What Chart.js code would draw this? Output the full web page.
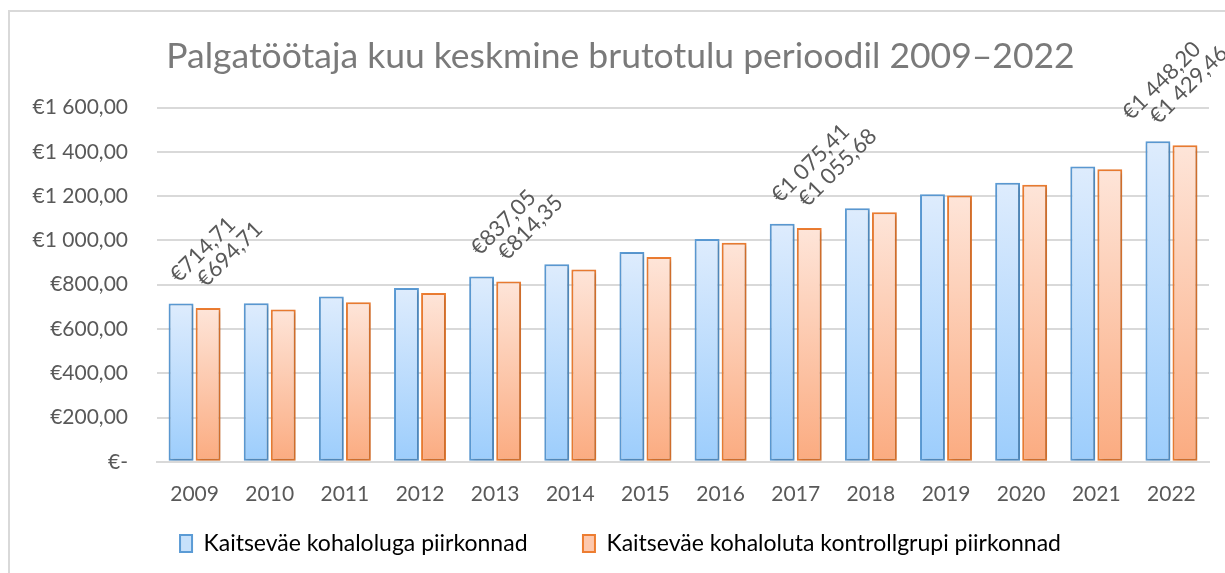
<!DOCTYPE html>
<html>
<head>
<meta charset="utf-8">
<script src="https://cdn.jsdelivr.net/npm/chart.js@4"></script>
<style>
  html, body { margin: 0; padding: 0; background: #fff; overflow: hidden; }
  #wrap { position: relative; width: 1225px; height: 573px; }
  #frame { position: absolute; left: 8px; top: 10px; width: 2000px; height: 2000px; border: 2px solid #d9d9d9; box-sizing: border-box; }
  canvas { position: absolute; left: 0; top: 0; }
</style>
</head>
<body>
<div id="wrap">
  <div id="frame"></div>
  <canvas id="palk" width="1225" height="573"></canvas>
</div>
<script>
// andmed
const years = ['2009', '2010', '2011', '2012', '2013', '2014', '2015', '2016', '2017', '2018', '2019', '2020', '2021', '2022'];
const withPresence = [714.71, 716, 747, 785, 837.05, 892, 948, 1006, 1075.41, 1145, 1209, 1261, 1334, 1448.20];
const controlGroup = [694.71, 688, 721, 762, 814.35, 869, 925, 990, 1055.68, 1127, 1203, 1252, 1322, 1429.46];
const labeledYears = ['2009', '2013', '2017', '2022'];
const seriesNames = ['Kaitseväe kohaloluga piirkonnad', 'Kaitseväe kohaloluta kontrollgrupi piirkonnad'];

const FONT = 'Lato, "Open Sans", sans-serif';
const GREY = '#595959';

function euro(v) {
  if (v === 0) return '€-';
  let s = v.toFixed(2).replace('.', ',');
  let [int, dec] = s.split(',');
  int = int.replace(/\B(?=(\d{3})+(?!\d))/g, ' ');
  return '€' + int + ',' + dec;
}

function barGradient(top, bottom, fallback) {
  return function(context) {
    const chart = context.chart;
    if (!chart.chartArea || !context.parsed) return fallback;
    const ys = chart.scales.y;
    const yTop = ys.getPixelForValue(context.parsed.y);
    const yBot = ys.getPixelForValue(0);
    const g = chart.ctx.createLinearGradient(0, yTop, 0, yBot);
    g.addColorStop(0, top);
    g.addColorStop(1, bottom);
    return g;
  };
}

// silte ainult osadel aastatel, 45 kraadi all
const valueLabels = {
  id: 'valueLabels',
  afterDatasetsDraw(chart) {
    const ctx = chart.ctx;
    ctx.save();
    ctx.font = '22px ' + FONT;
    ctx.fillStyle = GREY;
    ctx.textAlign = 'left';
    ctx.textBaseline = 'middle';
    const first = chart.getDatasetMeta(0).data;
    years.forEach((yr, i) => {
      if (!labeledYears.includes(yr)) return;
      // kui silt ei mahu paremale, nihuta mõlemat vasakule
      const w0 = ctx.measureText(euro(chart.data.datasets[0].data[i])).width;
      const shift = Math.max(0, first[i].x - 7 + w0 * Math.SQRT1_2 - (chart.chartArea.right - 12));
      chart.data.datasets.forEach((ds, di) => {
        const bar = chart.getDatasetMeta(di).data[i];
        ctx.save();
        ctx.translate(bar.x - 7 - shift, bar.y - 25);
        ctx.rotate(-Math.PI / 4);
        ctx.fillText(euro(ds.data[i]), 0, 0);
        ctx.restore();
      });
    });
    ctx.restore();
  }
};

const barShadow = {
  id: 'barShadow',
  beforeDatasetsDraw(chart) {
    const ctx = chart.ctx;
    ctx.save();
    ctx.shadowColor = 'rgba(0,0,0,0.22)';
    ctx.shadowBlur = 4;
    ctx.shadowOffsetX = 1.5;
    ctx.shadowOffsetY = 1.5;
  },
  afterDatasetsDraw(chart) {
    chart.ctx.restore();
  }
};

new Chart(document.getElementById('palk'), {
  type: 'bar',
  data: {
    labels: years,
    datasets: [{
      label: seriesNames[0],
      data: withPresence,
      backgroundColor: barGradient('#deecfd', '#9ccdfc', '#c5e0fb'),
      borderColor: '#5b9bd5',
      borderWidth: 2,
      borderSkipped: false
    }, {
      label: seriesNames[1],
      data: controlGroup,
      backgroundColor: barGradient('#fee5d9', '#fbab80', '#fcc9ad'),
      borderColor: '#ed7d31',
      borderWidth: 2,
      borderSkipped: false
    }]
  },
  plugins: [barShadow, valueLabels],
  options: {
    responsive: false,
    animation: false,
    categoryPercentage: 0.72,
    barPercentage: 0.92,
    layout: { padding: { left: 32, right: 16, top: 0, bottom: 8 } },
    plugins: {
      title: {
        display: true,
        text: 'Palgatöötaja kuu keskmine brutotulu perioodil 2009–2022',
        color: '#7a7a7a',
        font: { family: FONT, size: 35.5, weight: 'normal' },
        padding: { top: 35, bottom: 30 }
      },
      legend: {
        position: 'bottom',
        labels: {
          color: GREY,
          font: { family: FONT, size: 23 },
          boxWidth: 12,
          boxHeight: 17,
          padding: 26,
          generateLabels(chart) {
            return [
              { text: seriesNames[0] + '\u00a0\u00a0\u00a0\u00a0\u00a0', fillStyle: '#c7e1fb', strokeStyle: '#5b9bd5', lineWidth: 2, datasetIndex: 0 },
              { text: seriesNames[1], fillStyle: '#fdc8ad', strokeStyle: '#ed7d31', lineWidth: 2, datasetIndex: 1 }
            ];
          }
        }
      },
      tooltip: { enabled: false }
    },
    scales: {
      x: {
        grid: { display: false },
        border: { color: '#d9d9d9', width: 2 },
        afterFit(scale) { scale.height -= 13; },
        ticks: { color: GREY, font: { family: FONT, size: 21 }, padding: 12 }
      },
      y: {
        min: 0,
        max: 1600,
        afterFit(scale) { scale.width = 125; },
        grid: { color: '#d9d9d9', lineWidth: 2, drawTicks: false },
        border: { display: false },
        ticks: {
          stepSize: 200,
          color: GREY,
          padding: 29,
          font: { family: FONT, size: 21 },
          callback: v => euro(v)
        }
      }
    }
  }
});
</script>
</body>
</html>
